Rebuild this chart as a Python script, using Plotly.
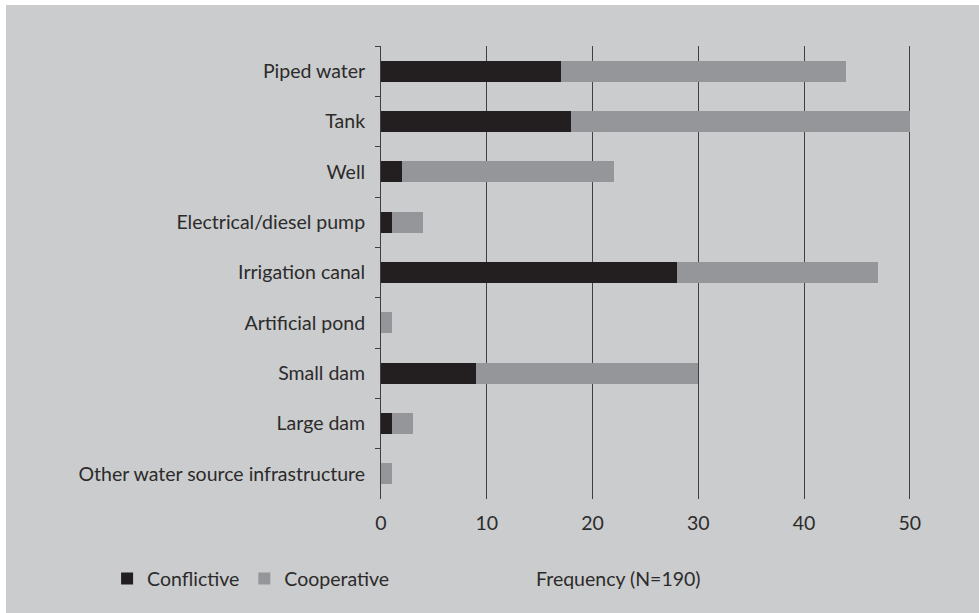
import plotly.graph_objects as go

categories = ["Piped water", "Tank", "Well", "Electrical/diesel pump", "Irrigation canal",
              "Artificial pond", "Small dam", "Large dam", "Other water source infrastructure"]
conflictive = [17, 18, 2, 1, 28, 0, 9, 1, 0]
cooperative = [27, 32, 20, 3, 19, 1, 21, 2, 1]
x_ticks = [0, 10, 20, 30, 40, 50]

BG = "#cbcccd"
FONT = "Lato"
TXT = "#2b2b2b"
FS = 19.5

fig = go.Figure()
fig.add_trace(go.Bar(y=categories, x=conflictive, orientation="h", name="Conflictive",
                     marker=dict(color="#231f20", line=dict(width=0))))
fig.add_trace(go.Bar(y=categories, x=cooperative, orientation="h", name="Cooperative",
                     marker=dict(color="#959699", line=dict(width=0))))

fig.update_layout(
    barmode="stack",
    bargap=0.58,
    width=973, height=608,
    margin=dict(l=375, r=48, t=41, b=114),
    paper_bgcolor=BG, plot_bgcolor=BG,
    font=dict(family=FONT, size=FS, color=TXT),
    showlegend=True,
    legend=dict(orientation="h", x=-0.498, y=-0.176, xanchor="left", yanchor="middle",
                bgcolor="rgba(0,0,0,0)", font=dict(size=FS, color=TXT),
                itemwidth=30, traceorder="normal"),
    xaxis=dict(range=[0, 52], tickvals=x_ticks, showgrid=True, gridcolor="#404040",
               gridwidth=1, zeroline=False, showline=False, ticks="",
               tickfont=dict(size=FS, color=TXT), ticklabelstandoff=10),
    yaxis=dict(autorange="reversed", showline=True, linecolor="#404040", linewidth=1,
               ticks="outside", tickson="boundaries", ticklen=5, tickcolor="#404040",
               showgrid=False, tickfont=dict(size=FS, color=TXT), ticklabelstandoff=11),
    annotations=[dict(text="Frequency (N=190)", xref="paper", yref="paper",
                      x=0.431, y=-0.176, xanchor="center", yanchor="middle",
                      showarrow=False, font=dict(size=FS, color=TXT))],
)

fig.write_html("out.html",
               post_script="document.body.style.margin='5px 0 0 6px';document.body.style.overflow='hidden';")
